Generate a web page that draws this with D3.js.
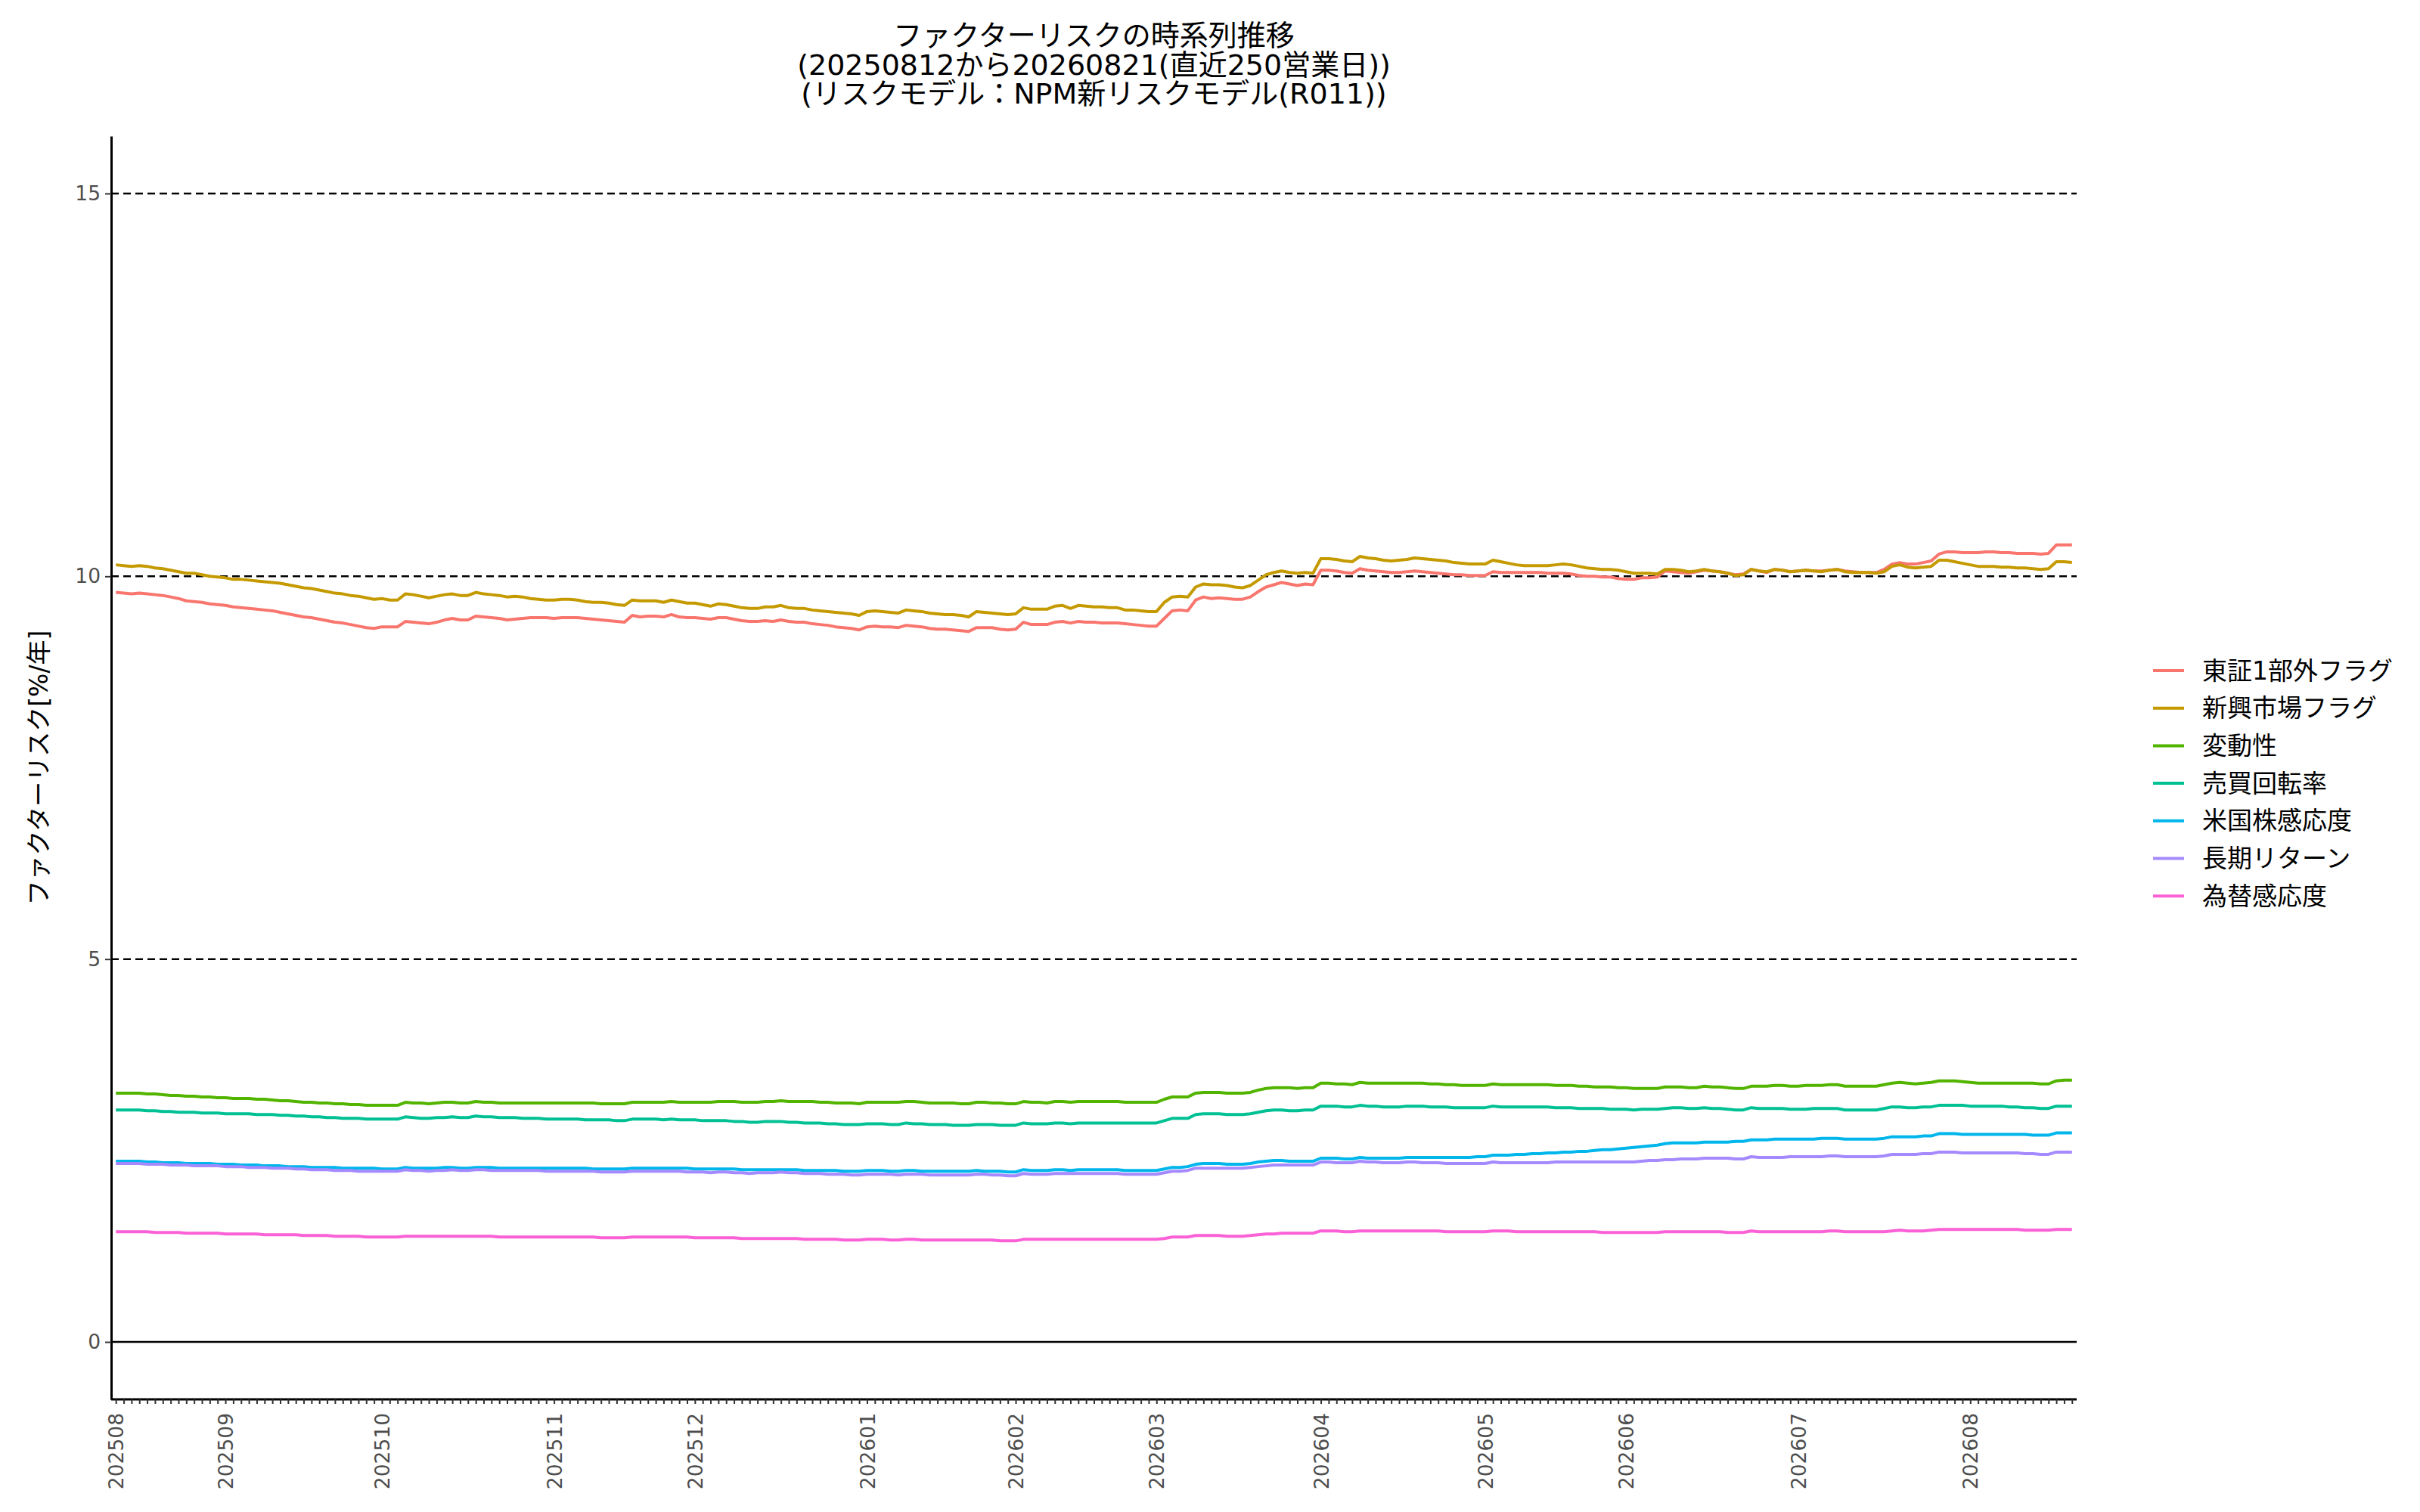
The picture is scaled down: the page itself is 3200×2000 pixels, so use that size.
<!DOCTYPE html>
<html>
<head>
<meta charset="utf-8">
<script src="https://cdn.jsdelivr.net/npm/d3@7"></script>
<style>
  body { margin: 0; background: #fff; }
  svg { display: block; font-family: "DejaVu Sans", "Noto Sans CJK JP", sans-serif; }
</style>
</head>
<body>
<div id="chart"></div>
<script>
// business-day calendar (TSE holidays in the window)
const startDay = "2025-08-12";
const endDay = "2026-08-21";
const holidays = [
  "2025-09-15", "2025-09-23", "2025-10-13", "2025-11-03", "2025-11-24", "2025-12-31",
  "2026-01-01", "2026-01-02", "2026-01-12", "2026-02-11", "2026-02-23", "2026-03-20",
  "2026-04-29", "2026-05-04", "2026-05-05", "2026-05-06", "2026-07-20", "2026-08-11"
];

const seriesNames = ["東証1部外フラグ", "新興市場フラグ", "変動性", "売買回転率", "米国株感応度", "長期リターン", "為替感応度"];
const seriesColors = ["#F8766D", "#C49A00", "#53B400", "#00C094", "#00B6EB", "#A58AFF", "#FB61D7"];
const yTicks = [0, 5, 10, 15];
const dashedLevels = [5, 10, 15];

// 東証1部外フラグ
const tosho = [
  9.79,9.78,9.77,9.78,9.77,9.76,9.75,9.73,9.71,9.68,
  9.67,9.66,9.64,9.63,9.62,9.60,9.59,9.58,9.57,9.56,
  9.55,9.53,9.51,9.49,9.47,9.46,9.44,9.42,9.40,9.39,
  9.37,9.35,9.33,9.32,9.34,9.34,9.34,9.41,9.40,9.39,
  9.38,9.40,9.43,9.45,9.43,9.43,9.48,9.47,9.46,9.45,
  9.43,9.44,9.45,9.46,9.46,9.46,9.45,9.46,9.46,9.46,
  9.45,9.44,9.43,9.42,9.41,9.40,9.49,9.47,9.48,9.48,
  9.47,9.50,9.47,9.46,9.46,9.45,9.44,9.46,9.46,9.44,
  9.42,9.41,9.41,9.42,9.41,9.43,9.41,9.40,9.40,9.38,
  9.37,9.36,9.34,9.33,9.32,9.30,9.34,9.35,9.34,9.34,
  9.33,9.36,9.35,9.34,9.32,9.31,9.31,9.30,9.29,9.28,
  9.33,9.33,9.33,9.31,9.30,9.31,9.40,9.37,9.37,9.37,
  9.40,9.41,9.39,9.41,9.40,9.40,9.39,9.39,9.39,9.38,
  9.37,9.36,9.35,9.35,9.45,9.55,9.56,9.55,9.69,9.73,
  9.71,9.72,9.71,9.70,9.70,9.73,9.80,9.86,9.89,9.92,
  9.90,9.88,9.90,9.89,10.08,10.08,10.07,10.05,10.04,10.10,
  10.08,10.07,10.06,10.05,10.05,10.06,10.07,10.06,10.05,10.04,
  10.03,10.02,10.02,10.01,10.01,10.01,10.06,10.05,10.05,10.05,
  10.05,10.05,10.05,10.04,10.04,10.04,10.03,10.01,10.00,10.00,
  9.99,9.99,9.97,9.96,9.96,9.98,9.98,9.99,10.07,10.06,
  10.05,10.04,10.06,10.08,10.07,10.06,10.04,10.02,10.03,10.09,
  10.07,10.05,10.09,10.08,10.06,10.07,10.08,10.07,10.07,10.08,
  10.09,10.07,10.06,10.05,10.05,10.05,10.09,10.16,10.18,10.16,
  10.16,10.18,10.20,10.29,10.32,10.32,10.31,10.31,10.31,10.32,
  10.32,10.31,10.31,10.30,10.30,10.30,10.29,10.30,10.41,10.41,
  10.41
];

// 新興市場フラグ
const shinko = [
  10.15,10.14,10.13,10.14,10.13,10.11,10.10,10.08,10.06,10.04,
  10.04,10.02,10.00,9.99,9.98,9.96,9.96,9.95,9.94,9.93,
  9.92,9.91,9.89,9.87,9.85,9.84,9.82,9.80,9.78,9.77,
  9.75,9.74,9.72,9.70,9.71,9.69,9.69,9.77,9.76,9.74,
  9.72,9.74,9.76,9.77,9.75,9.75,9.79,9.77,9.76,9.75,
  9.73,9.74,9.73,9.71,9.70,9.69,9.69,9.70,9.70,9.69,
  9.67,9.66,9.66,9.65,9.63,9.62,9.69,9.68,9.68,9.68,
  9.66,9.69,9.67,9.65,9.65,9.63,9.61,9.64,9.63,9.61,
  9.59,9.58,9.58,9.60,9.60,9.62,9.59,9.58,9.58,9.56,
  9.55,9.54,9.53,9.52,9.51,9.49,9.54,9.55,9.54,9.53,
  9.52,9.56,9.55,9.54,9.52,9.51,9.50,9.50,9.49,9.47,
  9.54,9.53,9.52,9.51,9.50,9.51,9.59,9.57,9.57,9.57,
  9.61,9.62,9.58,9.62,9.61,9.60,9.60,9.59,9.59,9.56,
  9.56,9.55,9.54,9.54,9.66,9.73,9.74,9.73,9.86,9.90,
  9.89,9.89,9.88,9.86,9.85,9.88,9.95,10.02,10.05,10.07,
  10.05,10.04,10.05,10.04,10.23,10.23,10.22,10.20,10.19,10.26,
  10.24,10.23,10.21,10.20,10.21,10.22,10.24,10.23,10.22,10.21,
  10.20,10.18,10.17,10.16,10.16,10.16,10.21,10.19,10.17,10.15,
  10.14,10.14,10.14,10.14,10.15,10.16,10.15,10.13,10.11,10.10,
  10.09,10.09,10.08,10.06,10.04,10.04,10.04,10.03,10.09,10.09,
  10.08,10.06,10.07,10.09,10.07,10.06,10.04,10.01,10.02,10.09,
  10.07,10.06,10.09,10.08,10.06,10.07,10.08,10.07,10.06,10.08,
  10.09,10.06,10.05,10.05,10.05,10.04,10.06,10.13,10.15,10.12,
  10.11,10.12,10.13,10.21,10.21,10.19,10.17,10.15,10.13,10.13,
  10.13,10.12,10.12,10.11,10.11,10.10,10.09,10.10,10.19,10.19,
  10.18
];

// 変動性
const hendo = [
  3.25,3.25,3.25,3.25,3.24,3.24,3.23,3.22,3.22,3.21,
  3.21,3.20,3.20,3.19,3.19,3.18,3.18,3.18,3.17,3.17,
  3.16,3.15,3.15,3.14,3.13,3.13,3.12,3.12,3.11,3.11,
  3.10,3.10,3.09,3.09,3.09,3.09,3.09,3.13,3.12,3.12,
  3.11,3.12,3.13,3.13,3.12,3.12,3.14,3.13,3.13,3.12,
  3.12,3.12,3.12,3.12,3.12,3.12,3.12,3.12,3.12,3.12,
  3.12,3.12,3.11,3.11,3.11,3.11,3.13,3.13,3.13,3.13,
  3.13,3.14,3.13,3.13,3.13,3.13,3.13,3.14,3.14,3.14,
  3.13,3.13,3.13,3.14,3.14,3.15,3.14,3.14,3.14,3.14,
  3.13,3.13,3.12,3.12,3.12,3.11,3.13,3.13,3.13,3.13,
  3.13,3.14,3.14,3.13,3.12,3.12,3.12,3.12,3.11,3.11,
  3.13,3.13,3.12,3.12,3.11,3.11,3.14,3.13,3.13,3.12,
  3.14,3.14,3.13,3.14,3.14,3.14,3.14,3.14,3.14,3.13,
  3.13,3.13,3.13,3.13,3.17,3.20,3.20,3.20,3.25,3.26,
  3.26,3.26,3.25,3.25,3.25,3.26,3.29,3.31,3.32,3.32,
  3.32,3.31,3.32,3.32,3.38,3.38,3.37,3.37,3.36,3.39,
  3.38,3.38,3.38,3.38,3.38,3.38,3.38,3.38,3.37,3.37,
  3.36,3.36,3.35,3.35,3.35,3.35,3.37,3.36,3.36,3.36,
  3.36,3.36,3.36,3.36,3.35,3.35,3.35,3.34,3.34,3.33,
  3.33,3.33,3.32,3.32,3.31,3.31,3.31,3.31,3.33,3.33,
  3.33,3.32,3.32,3.34,3.33,3.33,3.32,3.31,3.31,3.34,
  3.34,3.34,3.35,3.35,3.34,3.34,3.35,3.35,3.35,3.36,
  3.36,3.34,3.34,3.34,3.34,3.34,3.36,3.38,3.39,3.38,
  3.37,3.38,3.39,3.41,3.41,3.41,3.40,3.39,3.38,3.38,
  3.38,3.38,3.38,3.38,3.38,3.38,3.37,3.37,3.41,3.42,
  3.42
];

// 売買回転率
const kaiten = [
  3.03,3.03,3.03,3.03,3.02,3.02,3.01,3.01,3.00,3.00,
  3.00,2.99,2.99,2.99,2.98,2.98,2.98,2.98,2.97,2.97,
  2.97,2.96,2.96,2.95,2.95,2.94,2.94,2.93,2.93,2.92,
  2.92,2.92,2.91,2.91,2.91,2.91,2.91,2.94,2.93,2.92,
  2.92,2.93,2.93,2.94,2.93,2.93,2.95,2.94,2.94,2.93,
  2.93,2.93,2.92,2.92,2.92,2.91,2.91,2.91,2.91,2.91,
  2.90,2.90,2.90,2.90,2.89,2.89,2.91,2.91,2.91,2.91,
  2.90,2.91,2.90,2.90,2.90,2.89,2.89,2.89,2.89,2.88,
  2.88,2.87,2.87,2.88,2.88,2.88,2.87,2.87,2.86,2.86,
  2.86,2.85,2.85,2.84,2.84,2.84,2.85,2.85,2.85,2.84,
  2.84,2.86,2.85,2.85,2.84,2.84,2.84,2.83,2.83,2.83,
  2.84,2.84,2.84,2.83,2.83,2.83,2.86,2.85,2.85,2.85,
  2.86,2.86,2.85,2.86,2.86,2.86,2.86,2.86,2.86,2.86,
  2.86,2.86,2.86,2.86,2.89,2.92,2.92,2.92,2.97,2.98,
  2.98,2.98,2.97,2.97,2.97,2.98,3.00,3.02,3.03,3.03,
  3.02,3.02,3.03,3.03,3.08,3.08,3.08,3.07,3.07,3.09,
  3.08,3.08,3.07,3.07,3.07,3.08,3.08,3.08,3.07,3.07,
  3.07,3.06,3.06,3.06,3.06,3.06,3.08,3.07,3.07,3.07,
  3.07,3.07,3.07,3.07,3.06,3.06,3.06,3.05,3.05,3.05,
  3.05,3.04,3.04,3.04,3.03,3.04,3.04,3.04,3.05,3.06,
  3.06,3.05,3.05,3.06,3.05,3.05,3.04,3.03,3.03,3.06,
  3.05,3.05,3.05,3.05,3.04,3.04,3.04,3.05,3.05,3.05,
  3.05,3.03,3.03,3.03,3.03,3.03,3.05,3.07,3.07,3.06,
  3.06,3.07,3.07,3.09,3.09,3.09,3.09,3.08,3.08,3.08,
  3.08,3.08,3.07,3.07,3.06,3.06,3.05,3.05,3.08,3.08,
  3.08
];

// 米国株感応度
const beikoku = [
  2.36,2.36,2.36,2.36,2.35,2.35,2.34,2.34,2.34,2.33,
  2.33,2.33,2.33,2.32,2.32,2.32,2.31,2.31,2.31,2.30,
  2.30,2.30,2.29,2.29,2.29,2.28,2.28,2.28,2.28,2.27,
  2.27,2.27,2.27,2.27,2.26,2.26,2.26,2.28,2.27,2.27,
  2.27,2.27,2.28,2.28,2.27,2.27,2.28,2.28,2.28,2.27,
  2.27,2.27,2.27,2.27,2.27,2.27,2.27,2.27,2.27,2.27,
  2.27,2.26,2.26,2.26,2.26,2.26,2.27,2.27,2.27,2.27,
  2.27,2.27,2.27,2.27,2.26,2.26,2.26,2.26,2.26,2.26,
  2.25,2.25,2.25,2.25,2.25,2.25,2.25,2.25,2.24,2.24,
  2.24,2.24,2.24,2.23,2.23,2.23,2.24,2.24,2.24,2.23,
  2.23,2.24,2.24,2.23,2.23,2.23,2.23,2.23,2.23,2.23,
  2.24,2.23,2.23,2.23,2.22,2.22,2.25,2.24,2.24,2.24,
  2.25,2.25,2.24,2.25,2.25,2.25,2.25,2.25,2.25,2.24,
  2.24,2.24,2.24,2.24,2.26,2.28,2.28,2.29,2.32,2.33,
  2.33,2.33,2.32,2.32,2.32,2.33,2.35,2.36,2.37,2.37,
  2.36,2.36,2.36,2.36,2.40,2.40,2.40,2.39,2.39,2.41,
  2.40,2.40,2.40,2.40,2.40,2.41,2.41,2.41,2.41,2.41,
  2.41,2.41,2.41,2.41,2.42,2.42,2.44,2.44,2.44,2.45,
  2.45,2.46,2.46,2.47,2.47,2.48,2.48,2.49,2.49,2.50,
  2.51,2.51,2.52,2.53,2.54,2.55,2.56,2.57,2.59,2.60,
  2.60,2.60,2.60,2.61,2.61,2.61,2.61,2.62,2.62,2.64,
  2.64,2.64,2.65,2.65,2.65,2.65,2.65,2.65,2.66,2.66,
  2.66,2.65,2.65,2.65,2.65,2.65,2.66,2.68,2.68,2.68,
  2.68,2.69,2.69,2.72,2.72,2.72,2.71,2.71,2.71,2.71,
  2.71,2.71,2.71,2.71,2.71,2.70,2.70,2.70,2.73,2.73,
  2.73
];

// 長期リターン
const choki = [
  2.33,2.33,2.33,2.33,2.32,2.32,2.32,2.31,2.31,2.31,
  2.30,2.30,2.30,2.30,2.29,2.29,2.29,2.28,2.28,2.28,
  2.27,2.27,2.27,2.26,2.26,2.25,2.25,2.25,2.24,2.24,
  2.24,2.23,2.23,2.23,2.23,2.23,2.23,2.25,2.24,2.24,
  2.23,2.24,2.24,2.25,2.24,2.24,2.25,2.25,2.24,2.24,
  2.24,2.24,2.24,2.24,2.24,2.23,2.23,2.23,2.23,2.23,
  2.23,2.23,2.22,2.22,2.22,2.22,2.23,2.23,2.23,2.23,
  2.23,2.23,2.23,2.22,2.22,2.22,2.21,2.22,2.22,2.21,
  2.21,2.20,2.21,2.21,2.21,2.22,2.21,2.21,2.20,2.20,
  2.20,2.19,2.19,2.19,2.18,2.18,2.19,2.19,2.19,2.19,
  2.18,2.19,2.19,2.19,2.18,2.18,2.18,2.18,2.18,2.18,
  2.19,2.19,2.18,2.18,2.17,2.17,2.20,2.19,2.19,2.19,
  2.20,2.20,2.20,2.20,2.20,2.20,2.20,2.20,2.20,2.19,
  2.19,2.19,2.19,2.19,2.21,2.23,2.23,2.24,2.27,2.27,
  2.27,2.27,2.27,2.27,2.27,2.28,2.29,2.30,2.31,2.31,
  2.31,2.31,2.31,2.31,2.35,2.35,2.34,2.34,2.34,2.36,
  2.35,2.35,2.34,2.34,2.34,2.35,2.35,2.34,2.34,2.34,
  2.33,2.33,2.33,2.33,2.33,2.33,2.35,2.34,2.34,2.34,
  2.34,2.34,2.34,2.34,2.35,2.35,2.35,2.35,2.35,2.35,
  2.35,2.35,2.35,2.35,2.35,2.36,2.37,2.37,2.38,2.38,
  2.39,2.39,2.39,2.40,2.40,2.40,2.40,2.39,2.39,2.42,
  2.41,2.41,2.41,2.41,2.42,2.42,2.42,2.42,2.42,2.43,
  2.43,2.42,2.42,2.42,2.42,2.42,2.43,2.45,2.45,2.45,
  2.45,2.46,2.46,2.48,2.48,2.48,2.47,2.47,2.47,2.47,
  2.47,2.47,2.47,2.47,2.46,2.46,2.45,2.45,2.48,2.48,
  2.48
];

// 為替感応度
const kawase = [
  1.44,1.44,1.44,1.44,1.44,1.43,1.43,1.43,1.43,1.42,
  1.42,1.42,1.42,1.42,1.41,1.41,1.41,1.41,1.41,1.40,
  1.40,1.40,1.40,1.40,1.39,1.39,1.39,1.39,1.38,1.38,
  1.38,1.38,1.37,1.37,1.37,1.37,1.37,1.38,1.38,1.38,
  1.38,1.38,1.38,1.38,1.38,1.38,1.38,1.38,1.38,1.37,
  1.37,1.37,1.37,1.37,1.37,1.37,1.37,1.37,1.37,1.37,
  1.37,1.37,1.36,1.36,1.36,1.36,1.37,1.37,1.37,1.37,
  1.37,1.37,1.37,1.37,1.36,1.36,1.36,1.36,1.36,1.36,
  1.35,1.35,1.35,1.35,1.35,1.35,1.35,1.35,1.34,1.34,
  1.34,1.34,1.34,1.33,1.33,1.33,1.34,1.34,1.34,1.33,
  1.33,1.34,1.34,1.33,1.33,1.33,1.33,1.33,1.33,1.33,
  1.33,1.33,1.33,1.32,1.32,1.32,1.34,1.34,1.34,1.34,
  1.34,1.34,1.34,1.34,1.34,1.34,1.34,1.34,1.34,1.34,
  1.34,1.34,1.34,1.34,1.35,1.37,1.37,1.37,1.39,1.39,
  1.39,1.39,1.38,1.38,1.38,1.39,1.40,1.41,1.41,1.42,
  1.42,1.42,1.42,1.42,1.45,1.45,1.45,1.44,1.44,1.45,
  1.45,1.45,1.45,1.45,1.45,1.45,1.45,1.45,1.45,1.45,
  1.44,1.44,1.44,1.44,1.44,1.44,1.45,1.45,1.45,1.44,
  1.44,1.44,1.44,1.44,1.44,1.44,1.44,1.44,1.44,1.44,
  1.43,1.43,1.43,1.43,1.43,1.43,1.43,1.43,1.44,1.44,
  1.44,1.44,1.44,1.44,1.44,1.44,1.43,1.43,1.43,1.45,
  1.44,1.44,1.44,1.44,1.44,1.44,1.44,1.44,1.44,1.45,
  1.45,1.44,1.44,1.44,1.44,1.44,1.44,1.45,1.46,1.45,
  1.45,1.45,1.46,1.47,1.47,1.47,1.47,1.47,1.47,1.47,
  1.47,1.47,1.47,1.47,1.46,1.46,1.46,1.46,1.47,1.47,
  1.47
];

const seriesValues = [tosho, shinko, hendo, kaiten, beikoku, choki, kawase];

// ---- dates (business days) ----
const fmtDay = d3.utcFormat("%Y-%m-%d");
const fmtYmd = d3.utcFormat("%Y%m%d");
const holidaySet = new Set(holidays);
const dates = d3.utcDay.range(new Date(startDay), d3.utcDay.offset(new Date(endDay), 1))
  .filter(d => d.getUTCDay() !== 0 && d.getUTCDay() !== 6 && !holidaySet.has(fmtDay(d)))
  .map(fmtYmd);

// label only the first business day of each month
const monthLabel = new Map();
dates.forEach((d, i) => {
  if (i === 0 || d.slice(0, 6) !== dates[i - 1].slice(0, 6)) monthLabel.set(d, d.slice(0, 6));
});

// ---- layout ----
const width = 3200, height = 2000;
const margin = { left: 147, right: 454, top: 180, bottom: 149 };
const plotRight = width - margin.right;
const plotBottom = height - margin.bottom;
const tickFont = "\"DejaVu Sans\", sans-serif";

const svg = d3.select("#chart").append("svg")
    .attr("width", width)
    .attr("height", height);

const x = d3.scalePoint()
    .domain(dates)
    .range([margin.left, plotRight])
    .padding(0.6);

const y = d3.scaleLinear()
    .domain([-0.75, 15.75])
    .range([plotBottom, margin.top]);

// dashed grid lines
svg.append("g")
  .selectAll("line")
  .data(dashedLevels)
  .join("line")
    .attr("x1", margin.left)
    .attr("x2", plotRight)
    .attr("y1", d => y(d))
    .attr("y2", d => y(d))
    .attr("stroke", "#000")
    .attr("stroke-width", 2.5)
    .attr("stroke-dasharray", "10,6");

// solid zero line
svg.append("line")
    .attr("x1", margin.left)
    .attr("x2", plotRight)
    .attr("y1", y(0))
    .attr("y2", y(0))
    .attr("stroke", "#000")
    .attr("stroke-width", 2.5);

// series lines
const line = d3.line()
    .x((d, i) => x(dates[i]))
    .y(d => y(d));

svg.append("g")
    .attr("fill", "none")
    .attr("stroke-width", 4)
    .attr("stroke-linejoin", "round")
  .selectAll("path")
  .data(seriesValues.map((v, k) => ({ name: seriesNames[k], color: seriesColors[k], values: v.slice(0, dates.length) })))
  .join("path")
    .attr("stroke", d => d.color)
    .attr("d", d => line(d.values));

// x axis
const xAxis = svg.append("g")
    .attr("transform", `translate(0,${plotBottom})`)
    .call(d3.axisBottom(x).tickSizeInner(6).tickSizeOuter(0).tickFormat(d => monthLabel.get(d) || ""));
xAxis.select(".domain")
    .attr("d", `M${margin.left},0H${plotRight}`)
    .attr("stroke", "#000")
    .attr("stroke-width", 3);
xAxis.selectAll(".tick line").attr("stroke", "#333").attr("stroke-width", 2);
xAxis.selectAll(".tick text")
    .attr("transform", "rotate(-90)")
    .attr("x", -18)
    .attr("y", 0)
    .attr("dy", "0.36em")
    .attr("text-anchor", "end")
    .attr("fill", "#4D4D4D")
    .style("font-size", "26.5px")
    .style("font-family", tickFont);

// y axis
const yAxis = svg.append("g")
    .attr("transform", `translate(${margin.left},0)`)
    .call(d3.axisLeft(y).tickValues(yTicks).tickSizeInner(8).tickSizeOuter(0).tickPadding(6));
yAxis.select(".domain").attr("stroke", "#000").attr("stroke-width", 3);
yAxis.selectAll(".tick line").attr("stroke", "#333").attr("stroke-width", 2);
yAxis.selectAll(".tick text")
    .attr("fill", "#4D4D4D")
    .style("font-size", "26.5px")
    .style("font-family", tickFont);

// y axis title
svg.append("text")
    .attr("transform", `translate(51,${(margin.top + plotBottom) / 2}) rotate(-90)`)
    .attr("text-anchor", "middle")
    .attr("dominant-baseline", "central")
    .style("font-size", "33px")
    .text("ファクターリスク[%/年]");

// title
const titleLines = [
  "ファクターリスクの時系列推移",
  "(20250812から20260821(直近250営業日))",
  "(リスクモデル：NPM新リスクモデル(R011))"
];
svg.append("g")
  .selectAll("text")
  .data(titleLines)
  .join("text")
    .attr("x", (margin.left + plotRight) / 2)
    .attr("y", (d, i) => 60 + i * 38.5)
    .attr("text-anchor", "middle")
    .style("font-size", "38px")
    .text(d => d);

// legend
const legend = svg.append("g")
  .selectAll("g")
  .data(seriesNames)
  .join("g")
    .attr("transform", (d, i) => `translate(2847,${887 + i * 49.7})`);
legend.append("line")
    .attr("x1", 0)
    .attr("x2", 41)
    .attr("stroke", (d, i) => seriesColors[i])
    .attr("stroke-width", 4);
legend.append("text")
    .attr("x", 65)
    .attr("dominant-baseline", "central")
    .style("font-size", "33px")
    .text(d => d);
</script>
</body>
</html>
